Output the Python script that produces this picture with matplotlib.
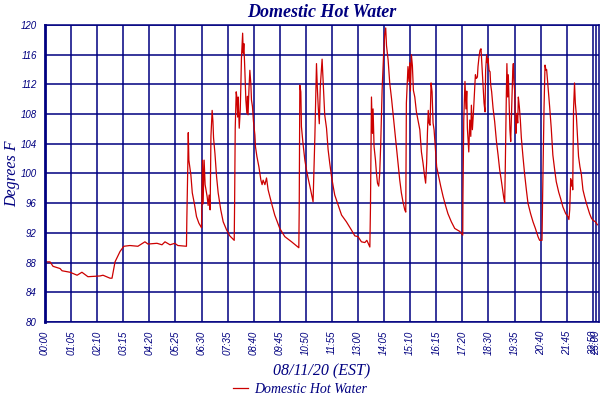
import matplotlib
matplotlib.use("Agg")
import matplotlib.pyplot as plt

# x positions are sample indices (5-minute readings), as plotted in the original
sample_idx = [
    0, 2.5, 4, 7.5, 8.5, 12.5, 16, 18.4, 21.4, 27.4, 28.9, 32.4, 33.4, 34.9, 37.4, 39.3,
    42.3, 46.3, 49.8, 51.3, 55.8, 58.3, 59.8, 62.3, 64.7, 66.2, 70.5,
    70.7, 71.2, 71.4, 71.7, 72.7, 73.4, 74.4, 75.5, 76.7, 78.0,
    78.5, 78.8, 79.3, 79.8, 80.8, 81.3, 81.8, 82.3, 82.7, 83.3, 83.7, 84.0, 84.7, 85.5,
    86.3, 87.6, 88.8, 90.5, 92.1, 94.3,
    94.5, 94.8, 95.3, 95.6, 96.0, 96.3, 96.8, 97.3, 97.6, 97.9, 98.5, 98.8, 99.1, 99.6,
    100.1, 100.6, 100.9, 101.2, 101.7, 102.1, 102.6, 102.9, 103.4, 103.9, 104.6, 104.9,
    105.6, 106.6, 107.6, 108.2, 108.7, 109.6, 110.4, 111.2, 112.9, 114.5, 117.0, 119.5,
    122.9, 126.1, 126.5,
    126.7, 127.0, 127.5, 127.8, 128.6, 129.5, 130.3, 131.1, 132.0, 133.6, 134.1, 134.5,
    134.8, 135.3, 135.7, 136.2, 136.7, 137.2, 138.1, 138.6, 139.4, 140.3, 141.1, 141.9,
    142.8, 143.6, 144.4, 145.8, 147.8, 150.2, 152.7, 154.4, 156.0, 157.7, 159.4, 160.4,
    161.9,
    162.2, 162.7, 163.2, 163.5, 164.0, 164.7, 165.2, 165.7, 166.3, 166.8, 167.3, 168.0,
    168.7, 169.3, 169.8, 170.2, 171.0, 171.8, 172.7, 173.5, 174.3, 175.2, 176.0, 176.8,
    177.6, 178.4, 179.3, 179.8,
    180.1, 180.9, 181.4, 181.8, 182.1, 182.6, 183.1, 183.6, 184.3, 185.1, 185.9, 186.8,
    187.6, 188.4, 189.2, 189.7, 190.2, 190.6, 191.0, 191.4, 191.9, 192.4, 192.9, 193.4,
    193.9, 194.6, 195.2, 196.2, 197.2, 198.4, 199.6, 200.8, 202.5, 204.2, 206.7, 208.2,
    208.3, 208.7, 209.3, 209.8, 210.2, 210.5, 211.2, 211.7, 212.2, 212.5, 213.0, 213.5,
    214.2, 214.5, 215.0, 215.5, 215.8, 216.3, 216.8, 217.3, 217.8, 218.3, 218.8, 219.3,
    219.6, 220.1, 220.5, 220.8, 221.3, 221.8, 222.1, 222.6, 223.3, 224.1, 225.0, 225.8,
    226.6, 227.4, 228.2, 228.7, 229.1, 229.4, 229.9, 230.2, 230.6, 230.9, 231.4, 231.7,
    232.1, 232.4, 232.7, 233.1, 233.4, 233.7, 234.1, 234.4, 234.7, 235.1, 235.6, 235.9,
    236.4, 236.9, 237.4, 238.2, 239.0, 239.9, 240.7, 242.0, 243.2, 244.4, 245.7, 246.5,
    247.7,
    248.0, 248.7, 249.2, 249.7, 250.0, 250.7, 251.5, 252.3, 253.1, 254.0, 254.8, 256.0,
    257.0, 258.1, 259.5, 260.6, 261.1, 261.5, 262.0, 262.5, 262.8, 263.0, 263.4, 263.9,
    264.3, 264.8, 265.3, 265.9, 266.6, 267.3, 268.1, 268.9, 269.8, 270.6, 271.4, 272.3,
    273.1, 274.3, 275.3,
]
temp_f = [
    88.1, 88.1, 87.5, 87.2, 86.9, 86.7, 86.3, 86.7, 86.1, 86.2, 86.3, 85.9, 85.9, 88.1, 89.5, 90.2,
    90.3, 90.2, 90.8, 90.5, 90.6, 90.4, 90.8, 90.4, 90.6, 90.3, 90.2,
    94.0, 101.6, 105.5, 101.8, 99.8, 97.4, 96.0, 94.2, 93.3, 92.7,
    101.8, 95.9, 101.8, 98.5, 96.9, 95.7, 97.1, 95.1, 105.0, 108.5, 107.0, 104.8, 102.7, 99.6,
    97.4, 95.1, 93.5, 92.4, 91.6, 91.0,
    96.1, 106.1, 111.0, 110.3, 107.6, 110.3, 106.1, 108.5, 111.7, 115.5, 118.9, 116.2, 117.5, 113.9,
    109.9, 108.1, 110.4, 107.9, 111.7, 113.9, 112.0, 109.9, 109.0, 107.0, 105.2, 103.6,
    102.3, 100.9, 99.1, 98.5, 99.1, 98.5, 99.4, 97.8, 96.0, 94.4, 92.6, 91.5,
    90.8, 90.1, 90.0,
    95.5, 111.9, 111.0, 106.3, 104.0, 101.8, 100.5, 99.4, 98.3, 96.2, 101.0, 105.0,
    108.5, 114.8, 111.7, 108.8, 106.7, 111.7, 115.4, 112.4, 107.9, 106.1, 103.2, 101.4,
    99.6, 98.3, 97.1, 96.0, 94.4, 93.5, 92.4, 91.6, 91.5, 90.8, 90.7, 91.0,
    90.1,
    95.3, 110.3, 105.4, 108.7, 103.6, 101.8, 100.0, 98.7, 98.3, 100.0, 103.8, 111.2,
    115.7, 118.7, 119.6, 117.2, 115.3, 112.2, 110.1, 107.9, 105.8, 103.4, 101.4, 99.1,
    97.4, 96.2, 95.1, 94.8,
    109.5, 114.4, 112.4, 114.9, 111.1, 116.0, 114.5, 111.2, 110.3, 108.3, 107.2, 105.9,
    102.9, 101.4, 99.6, 98.7, 101.4, 105.5, 108.5, 106.8, 106.5, 112.2, 111.0, 106.8,
    105.9, 103.2, 100.9, 99.6, 98.3, 96.9, 95.7, 94.6, 93.5, 92.6, 92.2, 91.7,
    96.9, 107.2, 112.4, 108.7, 111.1, 106.1, 102.9, 107.2, 105.0, 109.2, 105.9, 108.1,
    111.7, 113.3, 112.8, 113.0, 114.4, 115.7, 116.6, 116.8, 114.4, 112.0, 109.5, 108.3,
    113.9, 116.0, 114.9, 115.5, 113.9, 113.7, 112.0, 111.0, 108.8, 107.0, 104.3, 102.5,
    100.5, 99.1, 97.5, 96.6, 96.1, 100.9, 110.3, 114.8, 110.3, 113.3, 108.7, 105.9,
    104.3, 107.2, 110.3, 113.7, 114.8, 112.4, 111.0, 107.2, 105.4, 108.1, 106.8, 110.3,
    109.0, 107.2, 104.8, 102.3, 100.0, 97.8, 96.0, 94.6, 93.5, 92.6, 91.5, 91.0,
    91.0,
    96.9, 108.8, 114.6, 113.9, 114.0, 111.7, 109.0, 106.1, 102.5, 100.5, 98.9, 97.5,
    96.6, 95.5, 94.6, 94.2, 93.8, 95.1, 99.3, 98.3, 99.0, 97.8, 108.5, 112.2,
    109.5, 107.9, 105.4, 102.3, 100.9, 99.9, 97.8, 96.9, 96.0, 95.3, 94.6, 94.0,
    93.7, 93.5, 93.1,
]

tick_idx = [0, 13, 26, 39, 52, 65, 78, 91, 104, 117, 130, 143, 156, 169, 182,
            195, 208, 221, 234, 247, 260, 273, 274.5]
tick_labels = ["00:00", "01:05", "02:10", "03:15", "04:20", "05:25", "06:30", "07:35",
               "08:40", "09:45", "10:50", "11:55", "13:00", "14:05", "15:10", "16:15",
               "17:20", "18:30", "19:35", "20:40", "21:45", "22:50", "23:00"]
y_ticks = list(range(80, 121, 4))

NAVY = "#000080"
RED = "#CC0000"

fig = plt.figure(figsize=(6, 4), dpi=100)
ax = fig.add_axes([0.075, 0.195, 0.923, 0.7425])

ax.plot(sample_idx, temp_f, color=RED, linewidth=0.9, label="Domestic Hot Water")

ax.set_xlim(0, 276)
ax.set_ylim(80, 120)
ax.set_xticks(tick_idx)
ax.set_xticklabels(tick_labels, rotation=90)
ax.set_yticks(y_ticks)
ax.grid(True, color=NAVY, linewidth=1.1)
ax.set_axisbelow(True)
for sp in ax.spines.values():
    sp.set_color(NAVY)
    sp.set_linewidth(1.1)
ax.spines["left"].set_linewidth(2.0)

ax.tick_params(length=0, pad=6, colors=NAVY, labelsize=7)
for lab in ax.get_xticklabels() + ax.get_yticklabels():
    lab.set_fontstyle("italic")
    lab.set_family("Liberation Sans")

ax.set_title("Domestic Hot Water", color=NAVY, fontsize=13, fontweight="bold",
             fontstyle="italic", family="Liberation Serif", pad=6)
ax.set_xlabel("08/11/20 (EST)", color=NAVY, fontsize=11.5, fontstyle="italic",
              family="Liberation Serif", labelpad=6)
ax.set_ylabel("Degrees F", color=NAVY, fontsize=11.5, fontstyle="italic",
              family="Liberation Serif")
ax.yaxis.set_label_coords(-0.044, 0.5)

leg = fig.legend(loc="center", bbox_to_anchor=(0.5, 0.027), frameon=False,
                 prop={"family": "Liberation Serif", "style": "italic", "size": 10},
                 handlelength=1.1, handletextpad=0.4)
for t in leg.get_texts():
    t.set_color(NAVY)

fig.savefig("out.png", dpi=100)
